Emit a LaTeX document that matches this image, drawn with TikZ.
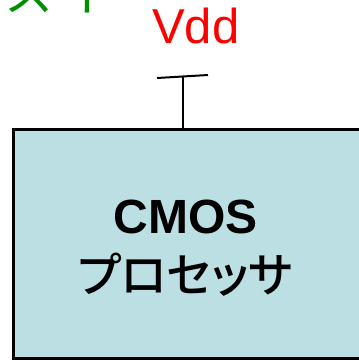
\documentclass[tikz,border=0pt]{standalone}
\usepackage{fontspec}
\usepackage{xcolor}
\setmainfont{Liberation Sans}
\newfontfamily\jpfont{Noto Sans CJK JP}[BoldFont={Noto Sans CJK JP Medium}, RawFeature=+palt]
\newfontfamily\jpwide{Noto Sans CJK JP}
\usetikzlibrary{positioning}

\definecolor{cpufill}{HTML}{BBDFE3}
\definecolor{sigreen}{HTML}{008F00}

\tikzset{
  cpubox/.style={draw, line width=2.6pt, fill=cpufill, inner sep=0pt},
  cputext/.style={align=center, inner sep=0pt,
    font=\fontsize{48}{59}\selectfont\bfseries},
  wire/.style={line width=2pt}
}

\begin{document}
\begin{tikzpicture}[x=1pt, y=-1pt]
  \useasboundingbox (0,0) rectangle (359,360);

  \coordinate (L) at (157,78);
  \coordinate (R) at (208,75);
  \coordinate (S) at (183,77);

  \node[cpubox, minimum width=349pt, minimum height=229pt, anchor=north west]
    (cpu) at (12,128) {};
  \node[cputext] (cpulabel) at ([xshift=-2pt, yshift=-4pt]cpu.center)
    {CMOS\\{\jpfont\bfseries\fontsize{47}{59}\selectfont プロセッサ}};

  \node[anchor=base west, inner sep=0pt, text=red,
    font=\fontsize{49}{49}\selectfont] (vdd) at (152,43) {Vdd};
  \node[anchor=base west, inner sep=0pt, text=sigreen,
    font=\fontsize{49}{49}\selectfont\jpwide] (sw) at (4,11) {ス\kern7ptイ};

  \draw[wire] (L) -- (R);
  \draw[wire] (S) -- (S |- cpu.north);
\end{tikzpicture}
\end{document}
